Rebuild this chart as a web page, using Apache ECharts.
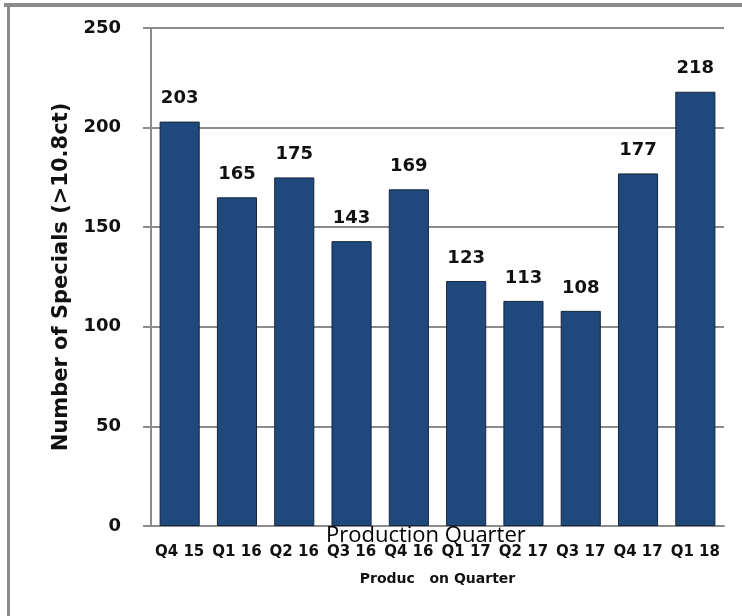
<!DOCTYPE html>
<html>
<head>
<meta charset="utf-8">
<script src="https://cdn.jsdelivr.net/npm/echarts@6/dist/echarts.min.js"></script>
<style>
  html, body { margin: 0; padding: 0; background: #fff; }
  #chart { width: 742px; height: 616px; }
</style>
</head>
<body>
<div id="chart"></div>
<script>
// quarters and counts
var quarters = ['Q4 15', 'Q1 16', 'Q2 16', 'Q3 16', 'Q4 16', 'Q1 17', 'Q2 17', 'Q3 17', 'Q4 17', 'Q1 18']
var specials = [203, 165, 175, 143, 169, 123, 113, 108, 177, 218]
var yTicks = [0, 50, 100, 150, 200, 250]

var fontFam = '"DejaVu Sans", sans-serif'
var myChart = echarts.init(document.getElementById('chart'))

var chartOption = {
  animation: false,
  backgroundColor: '#fff',
  grid: {
    left: 151,
    right: 18,
    top: 28,
    bottom: 90
  },
  graphic: [
    // grey frame on top and left
    { type: 'rect', shape: { x: 4, y: 3, width: 738, height: 4 }, style: { fill: '#8a8a8a' } },
    { type: 'rect', shape: { x: 7, y: 3, width: 3, height: 613 }, style: { fill: '#8a8a8a' } },
    {
      type: 'text',
      left: 326,
      top: 525,
      z: 10,
      style: { text: 'Production Quarter', fontSize: 22, fontFamily: '"Open Sans", sans-serif', fill: '#000' }
    }
  ],
  xAxis: {
    type: 'category',
    data: quarters,
    name: 'Produc   on Quarter',
    nameLocation: 'middle',
    nameGap: 46,
    nameTextStyle: { fontSize: 14, fontWeight: 'bold', fontFamily: fontFam, color: '#111' },
    axisLine: { lineStyle: { color: '#8c8c8c', width: 2 } },
    axisTick: { alignWithLabel: false, length: 7, lineStyle: { color: '#8c8c8c', width: 2 } },
    axisLabel: { interval: 0, margin: 19, fontSize: 15, fontWeight: 'bold', fontFamily: fontFam, color: '#111' }
  },
  yAxis: {
    type: 'value',
    min: yTicks[0],
    max: yTicks[yTicks.length - 1],
    interval: 50,
    name: 'Number of Specials (>10.8ct)',
    nameLocation: 'middle',
    nameGap: 74,
    nameTextStyle: { fontSize: 21, fontWeight: 'bold', fontFamily: fontFam, color: '#111' },
    axisLine: { show: true, lineStyle: { color: '#8c8c8c', width: 2 } },
    axisTick: { show: true, length: 8, lineStyle: { color: '#8c8c8c', width: 2 } },
    axisLabel: { margin: 30, fontSize: 18, fontWeight: 'bold', fontFamily: fontFam, color: '#111' },
    splitLine: { show: true, lineStyle: { color: '#8c8c8c', width: 2 } }
  },
  series: [
    {
      name: 'Specials',
      type: 'bar',
      data: specials,
      barCategoryGap: '30%',
      itemStyle: { color: '#1f497d', borderColor: '#16263a', borderWidth: 1 },
      label: {
        show: true,
        position: 'top',
        distance: 14,
        fontSize: 18,
        fontWeight: 'bold',
        fontFamily: fontFam,
        color: '#111'
      }
    }
  ]
}

myChart.setOption(chartOption)
</script>
</body>
</html>
